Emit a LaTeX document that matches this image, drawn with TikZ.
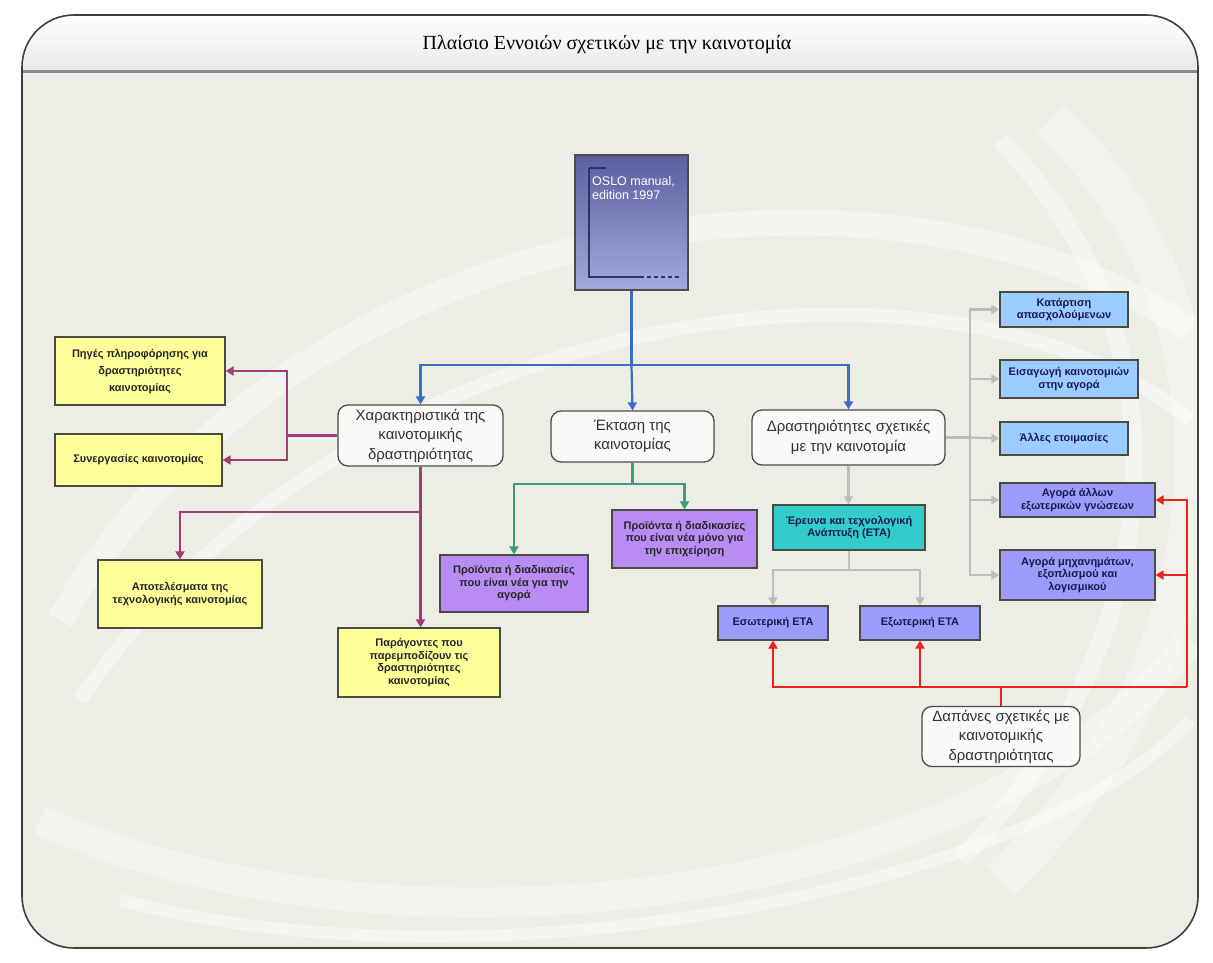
\documentclass[tikz,border=0pt]{standalone}
\usepackage{fontspec}
\setmainfont{Liberation Sans}
\newfontfamily\titlefont{Liberation Serif}
\usetikzlibrary{arrows.meta}

\definecolor{pagebg}{HTML}{ECEDE4}
\definecolor{yelbox}{HTML}{FFFF99}
\definecolor{viobox}{HTML}{B88CF2}
\definecolor{lavbox}{HTML}{9C9CFA}
\definecolor{skybox}{HTML}{9ACCFF}
\definecolor{tealbox}{HTML}{33CCCC}
\definecolor{cblue}{HTML}{3B6CC8}
\definecolor{cplum}{HTML}{9E3D78}
\definecolor{cgreen}{HTML}{3E9C78}
\definecolor{cgray}{HTML}{BDBDBD}
\definecolor{cred}{HTML}{EE2020}
\definecolor{edge}{HTML}{4A4C44}
\definecolor{covertop}{HTML}{5A5E9E}
\definecolor{coverbot}{HTML}{A4AADC}
\definecolor{coverink}{HTML}{2E3270}
\definecolor{navytext}{HTML}{1A1A50}

\tikzset{
  x=1pt, y=-1pt,
  ahead/.style={-{Triangle[width=9pt,length=8pt]}},
  cbox/.style={rectangle, draw=edge, line width=1.2pt, align=center,
    font=\fontsize{11}{12.5}\selectfont\bfseries, text=black!85, inner sep=2pt},
  ybox/.style={cbox, fill=yelbox},
  vbox/.style={cbox, fill=viobox},
  lbox/.style={cbox, fill=lavbox, text=navytext},
  sbox/.style={cbox, fill=skybox, text=navytext},
  tbox/.style={cbox, fill=tealbox, text=navytext},
  rbox/.style={rectangle, rounded corners=10pt, draw=black!70, line width=1.3pt,
    fill=white!70!pagebg, align=center, font=\fontsize{15}{19.5}\selectfont,
    text=black!80},
  bline/.style={draw=cblue, line width=2.2pt},
  pline/.style={draw=cplum, line width=2.2pt},
  gline/.style={draw=cgreen, line width=2.2pt},
  aline/.style={draw=cgray, line width=2.2pt},
  redline/.style={draw=cred, line width=2.2pt},
}

\begin{document}
\begin{tikzpicture}
\useasboundingbox (0,0) rectangle (1213,963);
\fill[white] (0,0) rectangle (1213,963);

% frame and background
\begin{scope}
  \clip[rounded corners=52pt] (22,15) rectangle (1198,948);
  \fill[pagebg] (22,15) rectangle (1198,948);
  % soft swirls
  \draw[white, line width=26pt, opacity=0.4] (60,620) .. controls (300,200) and (900,130) .. (1190,330);
  \draw[white, line width=14pt, opacity=0.45] (80,700) .. controls (350,300) and (950,220) .. (1190,420);
  \draw[white, line width=30pt, opacity=0.35] (40,820) .. controls (400,980) and (1000,900) .. (1190,640);
  \draw[white, line width=12pt, opacity=0.45] (120,900) .. controls (500,1000) and (1050,880) .. (1190,720);
  \draw[white, line width=40pt, opacity=0.3] (1050,120) .. controls (1250,300) and (1250,650) .. (1000,880);
  \draw[white, line width=18pt, opacity=0.4] (1000,140) .. controls (1180,320) and (1190,620) .. (960,860);
  % title band
  \shade[top color=white, bottom color=black!9] (22,15) rectangle (1198,72);
\end{scope}
\draw[black!45, line width=3pt] (22,72) -- (1198,72);
\draw[black!75, line width=1.6pt, rounded corners=52pt] (22,15) rectangle (1198,948);
\node[font=\titlefont\fontsize{20}{22}\selectfont, text=black] (title) at (607,45)
  {Πλαίσιο Εννοιών σχετικών με την καινοτομία};

% manual cover
\node[rectangle, draw=black!70, line width=1.2pt, top color=covertop, bottom color=coverbot,
      minimum width=113pt, minimum height=135pt, inner sep=0pt] (oslo) at (631.5,222.5) {};
\draw[coverink, line width=1.2pt] (589,168) -- (606,168);
\draw[coverink, line width=1.2pt] (589,168) -- (589,277) -- (640,277);
\draw[coverink, line width=1.2pt, dash pattern=on 4pt off 3pt] (640,277) -- (680,277);
\node[anchor=north west, align=left, text=white, font=\fontsize{12.5}{14}\selectfont, inner sep=0pt]
  (oslotxt) at (592,176) {OSLO manual,\\edition 1997};

% main rounded boxes
\node[rbox, minimum width=165pt, minimum height=61pt] (char) at (420.5,435.5)
  {Χαρακτηριστικά της\\καινοτομικής\\δραστηριότητας};
\node[rbox, minimum width=163pt, minimum height=51pt] (ext) at (632.5,436.5)
  {Έκταση της\\καινοτομίας};
\node[rbox, minimum width=193pt, minimum height=55pt] (act) at (848.5,437.5)
  {Δραστηριότητες σχετικές\\με την καινοτομία};
\node[rbox, minimum width=158pt, minimum height=53pt] (cost) at (1001,736.5)
  {Δαπάνες σχετικές με\\καινοτομικής\\δραστηριότητας};

% yellow boxes
\node[ybox, minimum width=170pt, minimum height=68pt, font=\fontsize{11}{17}\selectfont\bfseries] (src) at (140,371)
  {Πηγές πληροφόρησης για\\δραστηριότητες\\καινοτομίας};
\node[ybox, minimum width=167pt, minimum height=52pt] (coop) at (138.5,460)
  {Συνεργασίες καινοτομίας};
\node[ybox, minimum width=164pt, minimum height=68pt] (res) at (180,594)
  {Αποτελέσματα της\\τεχνολογικής καινοτομίας};
\node[ybox, minimum width=162pt, minimum height=69pt] (obst) at (419,662.5)
  {Παράγοντες που\\παρεμποδίζουν τις\\δραστηριότητες\\καινοτομίας};

% violet boxes
\node[vbox, minimum width=148pt, minimum height=57pt] (newm) at (514,583.5)
  {Προϊόντα ή διαδικασίες\\που είναι νέα για την\\αγορά};
\node[vbox, minimum width=145pt, minimum height=58pt] (newf) at (684.5,539)
  {Προϊόντα ή διαδικασίες\\που είναι νέα μόνο για\\την επιχείρηση};

% R&D boxes
\node[tbox, minimum width=152pt, minimum height=45pt] (rd) at (849,527.5)
  {Έρευνα και τεχνολογική\\Ανάπτυξη (ΕΤΑ)};
\node[lbox, minimum width=110pt, minimum height=34pt] (inrd) at (773,623) {Εσωτερική ΕΤΑ};
\node[lbox, minimum width=120pt, minimum height=34pt] (exrd) at (920,623) {Εξωτερική ΕΤΑ};

% right column
\node[sbox, minimum width=128pt, minimum height=35pt] (r1) at (1064,309.5)
  {Κατάρτιση\\απασχολούμενων};
\node[sbox, minimum width=138pt, minimum height=38pt] (r2) at (1069,379)
  {Εισαγωγή καινοτομιών\\στην αγορά};
\node[sbox, minimum width=128pt, minimum height=33pt] (r3) at (1064,438.5)
  {Άλλες ετοιμασίες};
\node[lbox, minimum width=155pt, minimum height=34pt] (r4) at (1077.5,500)
  {Αγορά άλλων\\εξωτερικών γνώσεων};
\node[lbox, minimum width=155pt, minimum height=50pt] (r5) at (1077.5,575)
  {Αγορά μηχανημάτων,\\εξοπλισμού και\\λογισμικού};

% blue connectors
\coordinate (bj) at (631.5,365);
\draw[bline] (oslo.south) -- (bj);
\draw[ahead, bline] (bj) -- (ext.north);
\draw[ahead, bline] (bj) -| (char.north);
\draw[ahead, bline] (bj) -| (act.north);

% plum connectors
\coordinate (pj) at (287,435.5);
\coordinate (pk) at (420.5,512);
\draw[pline] (char.west) -- (pj);
\draw[ahead, pline] (pj) |- (src.east);
\draw[ahead, pline] (pj) |- (coop.east);
\draw[ahead, pline] (char.south) -- (char.south |- obst.north);
\draw[ahead, pline] (pk) -| (res.north);

% green connectors
\coordinate (gj) at (632.5,484);
\draw[gline] (ext.south) -- (gj);
\draw[ahead, gline] (gj) -| (newm.north);
\draw[ahead, gline] (gj) -| (newf.north);

% gray connectors
\draw[ahead, aline] (act.south) -- (act.south |- rd.north);
\coordinate (ej) at (849,570);
\draw[aline] (rd.south) -- (ej);
\draw[ahead, aline] (ej) -| (inrd.north);
\draw[ahead, aline] (ej) -| (exrd.north);
\coordinate (rj) at (970,437.5);
\draw[aline] (act.east) -- (rj);
\draw[ahead, aline] (rj) |- (r1.west);
\draw[ahead, aline] (rj) |- (r2.west);
\draw[ahead, aline] (rj) -- (r3.west);
\draw[ahead, aline] (rj) |- (r4.west);
\draw[ahead, aline] (rj) |- (r5.west);

% red connectors
\coordinate (dj) at (1001,687);
\coordinate (dr) at (1187,687);
\draw[redline] (cost.north) -- (dj) -- (dr);
\draw[ahead, redline] (dj) -| (inrd.south);
\draw[ahead, redline] (dj) -| (exrd.south);
\draw[ahead, redline] (dr) |- (r5.east);
\draw[ahead, redline] (dr) |- (r4.east);
\end{tikzpicture}
\end{document}
